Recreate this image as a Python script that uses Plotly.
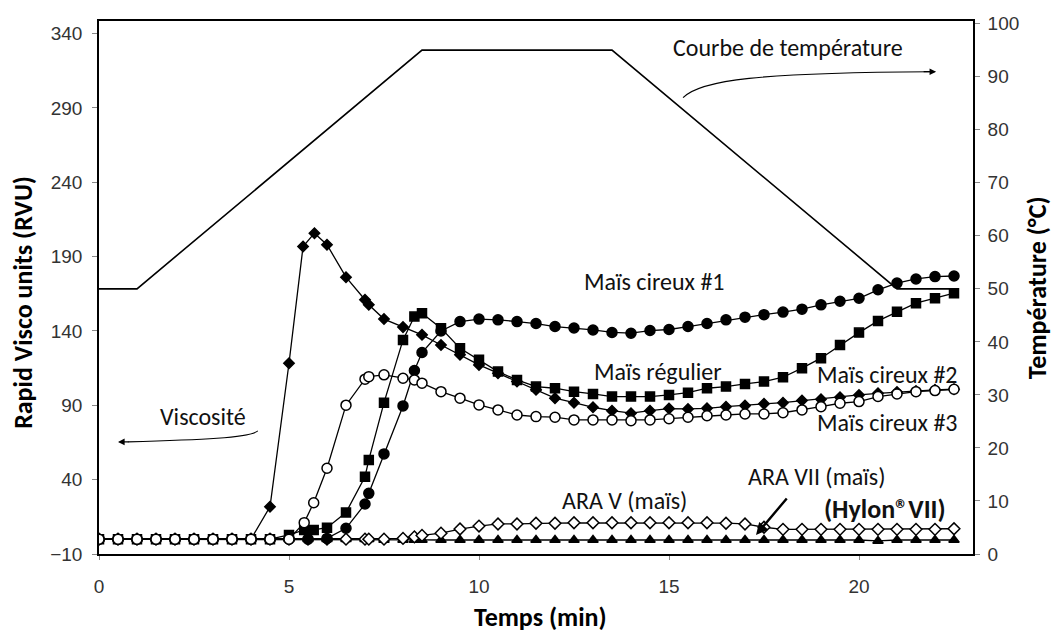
import plotly.graph_objects as go

# Common sampling times (min) for the second half of the RVA run
temps_fin = [9.0, 9.5, 10.0, 10.5, 11.0, 11.5, 12.0, 12.5, 13.0, 13.5, 14.0, 14.5,
             15.0, 15.5, 16.0, 16.5, 17.0, 17.5, 18.0, 18.5, 19.0, 19.5, 20.0, 20.5,
             21.0, 21.5, 22.0, 22.5]

# Maïs cireux #1 (filled circles)
temps_cireux1 = [0, 0.5, 1, 1.5, 2, 2.5, 3, 3.5, 4, 4.5, 5, 5.5, 6, 6.5, 7, 7.1,
                 7.5, 8, 8.3, 8.5] + temps_fin
rvu_cireux1 = [0, 0, 0, 0, 0, 0, 0, 0, 0, 0, 0, 0, 0.5, 7.3, 23.6, 30.8, 57.3, 89.6,
               113.4, 125.5,
               140, 146.3, 148, 147.5, 146.3, 145, 143, 142, 140.7, 139, 138.5, 140.3,
               141, 143, 145, 147.5, 149.3, 151, 152.7, 154.7, 157.6, 160, 162, 167.7,
               172.2, 175, 176.6, 177]

# Maïs cireux #2 (filled diamonds)
temps_cireux2 = [0, 0.5, 1, 1.5, 2, 2.5, 3, 3.5, 4, 4.5, 5, 5.37, 5.67, 6, 6.5, 7,
                 7.1, 7.5, 8, 8.5] + temps_fin
rvu_cireux2 = [0, 0, 0, 0, 0, 0, 0, 0, 0, 21.8, 118.3, 196.8, 205.8, 198, 176.2, 161,
               157.6, 148, 142.6, 137.4,
               130.6, 124, 117.2, 111.6, 106, 100.4, 94.8, 91.8, 88.7, 86.4, 84.7, 86.4,
               87.8, 87.6, 88, 89.1, 89.8, 91, 91.8, 93.2, 94.1, 95.5, 97, 98.1,
               99, 99.7, 100.4, 100.8]

# Maïs cireux #3 (open circles) and Maïs régulier (filled squares)
temps_cireux3 = [0, 0.5, 1, 1.5, 2, 2.5, 3, 3.5, 4, 4.5, 5, 5.4, 5.65, 6, 6.5, 7,
                 7.1, 7.5, 8, 8.3, 8.5] + temps_fin
rvu_cireux3 = [0, 0, 0, 0, 0, 0, 0, 0, 0, 0, 0, 11.1, 24.5, 47.7, 90.1, 107.6, 109.3,
               110.5, 108.2, 107.1, 104.9,
               99.2, 94.8, 90.3, 86.9, 83.5, 82.4, 82, 80.2, 80.2, 80.2, 79.7, 80.2,
               81, 82, 83, 83.5, 84.2, 84.2, 85, 86.9, 89.1, 91.4, 92.5, 95.9,
               97.7, 99.2, 99.9, 100.8]

temps_regulier = temps_cireux3
rvu_regulier = [0, 0, 0, 0, 0, 0, 0, 0, 0, 0, 2.8, 6.2, 6.2, 7.7, 17.9, 42, 53.3,
                91.8, 134, 149.7, 152,
                141.9, 128.4, 120.6, 112.7, 107.1, 102.6, 101.5, 99.2, 97.7, 95.9, 95.9, 95.9,
                97, 98.5, 101.5, 102.6, 104.4, 106, 108.9, 115, 121.7, 130.6, 138.9, 146.8,
                153, 158.7, 162.1, 165.4]

# ARA V (open diamonds) and ARA VII / Hylon VII (filled triangles)
temps_ara = temps_cireux1
rvu_ara5 = [0, 0, 0, 0, 0, 0, 0, 0, 0, 0, 0, 0, 0, 0, 0, 0, 0, 0.5, 1.5, 2.5,
            4, 6.8, 8.8, 10.2, 10.2, 10.7, 10.7, 11, 11, 11, 11, 11,
            11, 11, 11, 10.7, 10.2, 8, 6.6, 6.6, 6.6, 6.6, 6.6, 6.6,
            6.6, 6.6, 6.6, 7]
rvu_ara7 = [0, 0, 0, 0, 0, 0, 0, 0, 0, 0, 0, 0, 0, 0, 0, 0, -0.5, -0.5, -0.5, -0.5,
            -0.6, -0.6, -0.6, -0.6, -0.6, -0.6, -0.6, -0.6, -0.6, -0.6, -0.6, -0.6,
            -0.6, -0.6, -0.6, -0.6, -0.6, -0.6, -0.6, -0.6, -0.6, -0.6, -0.6, -1.2,
            -0.6, -0.6, -0.6, -0.6]

# Temperature programme (right axis, °C)
temps_temperature = [0, 1, 8.5, 13.5, 21, 22.6]
temperature = [50, 50, 95, 95, 50, 50]

tick_font = dict(family="Liberation Sans, Arial, sans-serif", size=19, color="#333")
label_font = dict(family="Calibri, Carlito, Lato, sans-serif", size=24, color="#111")
title_font = dict(family="Calibri, Carlito, Lato, sans-serif", size=26, color="#000")

fig = go.Figure()

fig.add_trace(go.Scatter(
    x=temps_temperature, y=temperature, yaxis="y2", mode="lines",
    line=dict(color="black", width=1.6), name="Température"))


def courbe(x, y, symbol, size, fill, name):
    fig.add_trace(go.Scatter(
        x=x, y=y, mode="lines+markers", name=name,
        line=dict(color="black", width=1.3),
        marker=dict(symbol=symbol, size=size, color=fill,
                    line=dict(color="black", width=1.5))))


courbe(temps_ara, rvu_ara7, "triangle-up", 9, "black", "ARA VII (maïs)")
courbe(temps_ara, rvu_ara5, "diamond", 9, "white", "ARA V (maïs)")
courbe(temps_regulier, rvu_regulier, "square", 9, "black", "Maïs régulier")
courbe(temps_cireux1, rvu_cireux1, "circle", 10, "black", "Maïs cireux #1")
courbe(temps_cireux2, rvu_cireux2, "diamond", 8, "black", "Maïs cireux #2")
courbe(temps_cireux3, rvu_cireux3, "circle", 10, "white", "Maïs cireux #3")

labels = [
    ("Courbe de température", 18.13, 330.5),
    ("Viscosité", 2.74, 82.2),
    ("Maïs cireux #1", 14.63, 173.0),
    ("Maïs régulier", 14.71, 112.5),
    ("Maïs cireux #2", 20.76, 110.5),
    ("Maïs cireux #3", 20.76, 78.2),
    ("ARA V (maïs)", 13.84, 26.3),
    ("ARA VII (maïs)", 18.87, 41.8),
]
annotations = [dict(text=t, x=x, y=y, xref="x", yref="y", showarrow=False,
                    xanchor="center", yanchor="middle", font=label_font)
               for t, x, y in labels]
annotations.append(dict(text="<b>(Hylon®VII)</b>", x=20.68, y=20.3,
                        xref="x", yref="y", showarrow=False,
                        xanchor="center", yanchor="middle",
                        font=dict(family="Calibri, Carlito, Lato, sans-serif",
                                  size=26, color="#111")))
# arrowheads at the ends of the curved pointers, and the Hylon pointer
annotations += [
    dict(text="", x=22.03, y=314.4, xref="x", yref="y", ax=-14, ay=0,
         showarrow=True, arrowhead=2, arrowsize=1.1, arrowwidth=1.2, arrowcolor="black"),
    dict(text="", x=0.5, y=65.4, xref="x", yref="y", ax=12, ay=0,
         showarrow=True, arrowhead=2, arrowsize=1.1, arrowwidth=1.2, arrowcolor="black"),
    dict(text="", x=17.29, y=2.8, xref="x", yref="y", ax=32, ay=-38,
         showarrow=True, arrowhead=2, arrowsize=1, arrowwidth=2.4, arrowcolor="black"),
]
# axis titles
annotations += [
    dict(text="<b>Rapid Visco units (RVU)</b>", x=-0.087, y=0.473, xref="paper",
         yref="paper", textangle=-90, showarrow=False, xanchor="center",
         yanchor="middle", font=title_font),
    dict(text="<b>Température (°C)</b>", x=1.073, y=0.50, xref="paper",
         yref="paper", textangle=-90, showarrow=False, xanchor="center",
         yanchor="middle", font=title_font),
    dict(text="<b>Temps (min)</b>", x=0.505, y=-0.118, xref="paper",
         yref="paper", showarrow=False, xanchor="center", yanchor="middle",
         font=title_font),
]

shapes = [
    dict(type="path", xref="x", yref="y",
         path="M 15.37,296.9 C 15.82,309.0 17.39,313.7 21.87,314.4",
         line=dict(color="black", width=1.1)),
    dict(type="path", xref="x", yref="y",
         path="M 4.18,72.8 C 3.97,68.1 2.66,66.7 0.76,65.4",
         line=dict(color="black", width=1.1)),
]

fig.update_layout(
    width=1055, height=635, autosize=False,
    margin=dict(l=99, r=82, t=21, b=81),
    paper_bgcolor="white", plot_bgcolor="white",
    showlegend=False,
    annotations=annotations, shapes=shapes,
    xaxis=dict(range=[0, 23], tickvals=[0, 5, 10, 15, 20], showgrid=False,
               zeroline=False, showline=True, linecolor="black", linewidth=2,
               mirror=True, ticks="outside", ticklen=4, tickcolor="#888",
               tickfont=tick_font, ticklabelstandoff=10),
    yaxis=dict(range=[-10, 348.5], tickvals=[-10, 40, 90, 140, 190, 240, 290, 340],
               showgrid=False, zeroline=False, showline=True, linecolor="black",
               linewidth=1.6, ticks="outside", ticklen=5, tickcolor="#888",
               tickfont=tick_font, ticklabelstandoff=6),
    yaxis2=dict(range=[0, 100.5], tickvals=[0, 10, 20, 30, 40, 50, 60, 70, 80, 90, 100],
                overlaying="y", side="right", showgrid=False, zeroline=False,
                showline=True, linecolor="black", linewidth=1.6, ticks="outside",
                ticklen=5, tickcolor="#888", tickfont=tick_font, ticklabelstandoff=4),
)

fig.write_html("out.html")
